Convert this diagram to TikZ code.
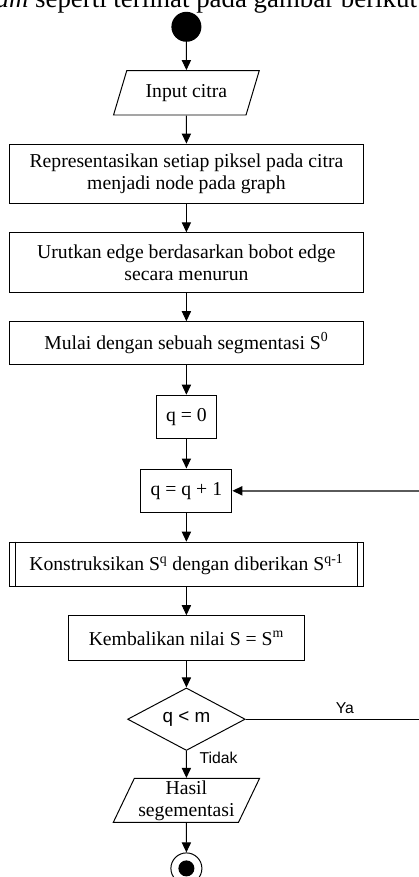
\documentclass[tikz,border=0pt]{standalone}
\usepackage{fontspec}
\setmainfont{Liberation Serif}
\setsansfont{Liberation Sans}
\usepackage{tikz}
\usetikzlibrary{arrows.meta,shapes,positioning}
\usepackage{xcolor}
\definecolor{fbgray}{RGB}{90,90,90}
\newcommand{\flowfont}{\fontsize{14}{15.8}\selectfont}
\newcommand{\lblfont}{\sffamily\fontsize{11.2}{13}\selectfont}
\tikzstyle{arrow} = [line width=0.7pt,-{Triangle[length=2.5mm,width=2.3mm]}]
\tikzstyle{feedback} = [line width=1pt,color=fbgray,-{Triangle[length=2.5mm,width=2.3mm,color=black]}]
\tikzstyle{process} = [rectangle, draw, line width=0.7pt, align=center, inner sep=2pt, font=\flowfont]
\tikzstyle{io} = [trapezium, trapezium left angle=65, trapezium right angle=115, trapezium stretches=true, draw, line width=0.7pt, align=center, inner sep=1pt, font=\flowfont]
\tikzstyle{decision} = [diamond, draw, line width=0.7pt, inner sep=0pt, font=\sffamily\fontsize{13.4}{15}\selectfont]

\begin{document}
\begin{tikzpicture}
\useasboundingbox (0,0) rectangle (10.475,-21.925);

% Caption line of the page, cut at the top
\node[anchor=base east, inner sep=0pt, font=\fontsize{19.1}{22}\selectfont] (caption) at (10.43,-0.18) {\textit{am} seperti terlihat pada gambar berikut};

% Start
\node[circle, fill=black, minimum size=0.75cm, inner sep=0pt] (start) at (4.66,-0.67) {};

% Steps
\node[io, minimum width=3.66cm, minimum height=1.11cm] (input) at (4.66,-2.32) {Input citra};
\node[process, minimum width=8.85cm, minimum height=1.475cm] (repr) at (4.66,-4.34) {Representasikan setiap piksel pada citra\\menjadi node pada graph};
\node[process, minimum width=8.85cm, minimum height=1.48cm] (sort) at (4.66,-6.56) {Urutkan edge berdasarkan bobot edge\\secara menurun};
\node[process, minimum width=8.85cm, minimum height=1.065cm] (init) at (4.66,-8.575) {Mulai dengan sebuah segmentasi S\textsuperscript{0}};
\node[process, minimum width=1.5cm, minimum height=1.08cm] (qzero) at (4.66,-10.42) {q = 0};
\node[process, minimum width=2.275cm, minimum height=1.09cm] (qinc) at (4.66,-12.27) {q = q + 1};
\node[process, minimum width=8.85cm, minimum height=1.11cm] (build) at (4.66,-14.11) {Konstruksikan S\textsuperscript{q} dengan diberikan S\textsuperscript{q-1}};
\draw[line width=0.7pt] ([xshift=0.17cm]build.north west) -- ([xshift=0.17cm]build.south west);
\draw[line width=0.7pt] ([xshift=-0.17cm]build.north east) -- ([xshift=-0.17cm]build.south east);
\node[process, minimum width=5.9cm, minimum height=1.125cm] (result) at (4.66,-15.955) {Kembalikan nilai S = S\textsuperscript{m}};

% Decision
\node[decision, minimum width=2.94cm, minimum height=1.46cm] (check) at (4.66,-17.98) {q < m};
\node[io, minimum width=3.66cm, minimum height=1.1cm] (output) at (4.66,-20.01) {Hasil\\segementasi};

% End
\node[circle, draw, line width=0.7pt, minimum size=0.775cm, inner sep=0pt] (stop) at (4.66,-21.71) {};
\node[circle, fill=black, minimum size=0.4cm, inner sep=0pt] (stopdot) at (stop) {};

% Arrows
\draw[arrow] (start) -- (input);
\draw[arrow] (input) -- (repr);
\draw[arrow] (repr) -- (sort);
\draw[arrow] (sort) -- (init);
\draw[arrow] (init) -- (qzero);
\draw[arrow] (qzero) -- (qinc);
\draw[arrow] (qinc) -- (build);
\draw[arrow] (build) -- (result);
\draw[arrow] (result) -- (check);
\draw[arrow] (check) -- node[right, pos=0.25, xshift=0.2cm, font=\lblfont] (no) {Tidak} (output);
\draw[arrow] (output) -- (stop);

% Loop back
\coordinate (yaend) at (11.1,-17.98);
\coordinate (backstart) at (11.1,-12.27);
\draw[line width=0.7pt] (check.east) -- node[above, font=\lblfont] (yes) {Ya} (yaend) -- (backstart);
\draw[feedback] (backstart) -- (qinc.east);
\end{tikzpicture}
\end{document}
